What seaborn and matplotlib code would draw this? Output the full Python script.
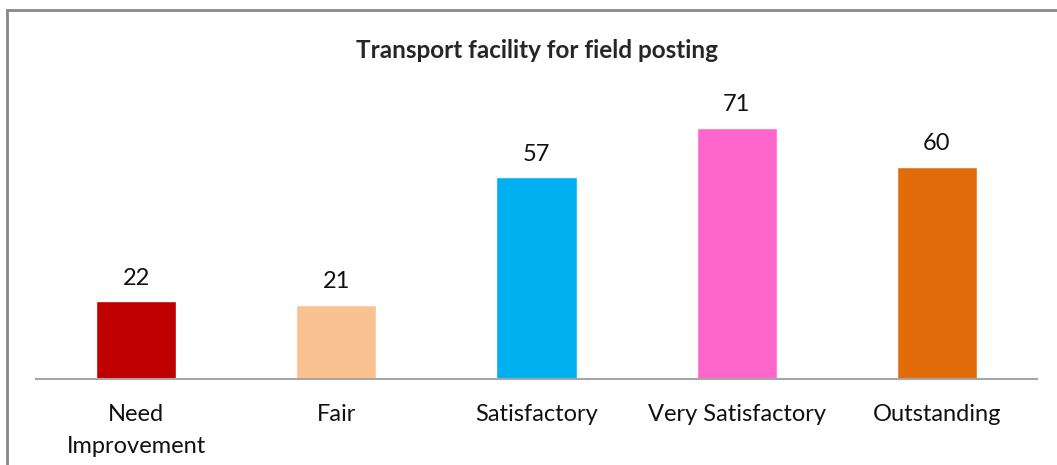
import matplotlib
matplotlib.use("Agg")
import matplotlib.pyplot as plt
import seaborn as sns
import pandas as pd
from matplotlib.patches import Rectangle

# Transport facility ratings - bar chart with value labels

categories = ["Need\nImprovement", "Fair", "Satisfactory", "Very Satisfactory", "Outstanding"]
counts = [22, 21, 57, 71, 60]
colors = ["#C00000", "#FAC191", "#00B0F0", "#FF66CC", "#E36C0A"]

df = pd.DataFrame({"rating": categories, "count": counts})

sns.set_style("white")
plt.rcParams["font.family"] = ["Lato", "DejaVu Sans"]

fig = plt.figure(figsize=(10.57, 4.65), dpi=100)
ax = fig.add_axes([36 / 1057, 86 / 465, 1001 / 1057, 283 / 465])

sns.barplot(data=df, x="rating", y="count", hue="rating", palette=colors,
            saturation=1, legend=False, width=0.4, ax=ax)

for i, v in enumerate(counts):
    ax.annotate(str(v), (i, v), xytext=(0, 9), textcoords="offset points",
                ha="center", va="bottom", fontsize=17, color="#111111")

ax.set_ylim(0, 80)
ax.set_xlim(-0.5, 4.5)
ax.set_xlabel("")
ax.set_ylabel("")
ax.set_yticks([])
for s in ["top", "right", "left"]:
    ax.spines[s].set_visible(False)
ax.spines["bottom"].set_color("#A6A6A6")
ax.spines["bottom"].set_linewidth(1.5)
ax.tick_params(axis="x", length=0, pad=18, labelsize=17, labelcolor="#111111")
for lbl in ax.get_xticklabels():
    lbl.set_linespacing(1.65)

fig.text(537 / 1057, 1 - 51 / 465, "Transport facility for field posting",
         ha="center", va="center", fontsize=17.5, fontweight="bold")

# chart border
fig.patches.append(Rectangle((7 / 1057, -0.1), 1.2, 1 - 10 / 465 + 0.1,
                             transform=fig.transFigure, fill=False,
                             edgecolor="#888888", linewidth=2))

fig.savefig("out.png", dpi=100)
